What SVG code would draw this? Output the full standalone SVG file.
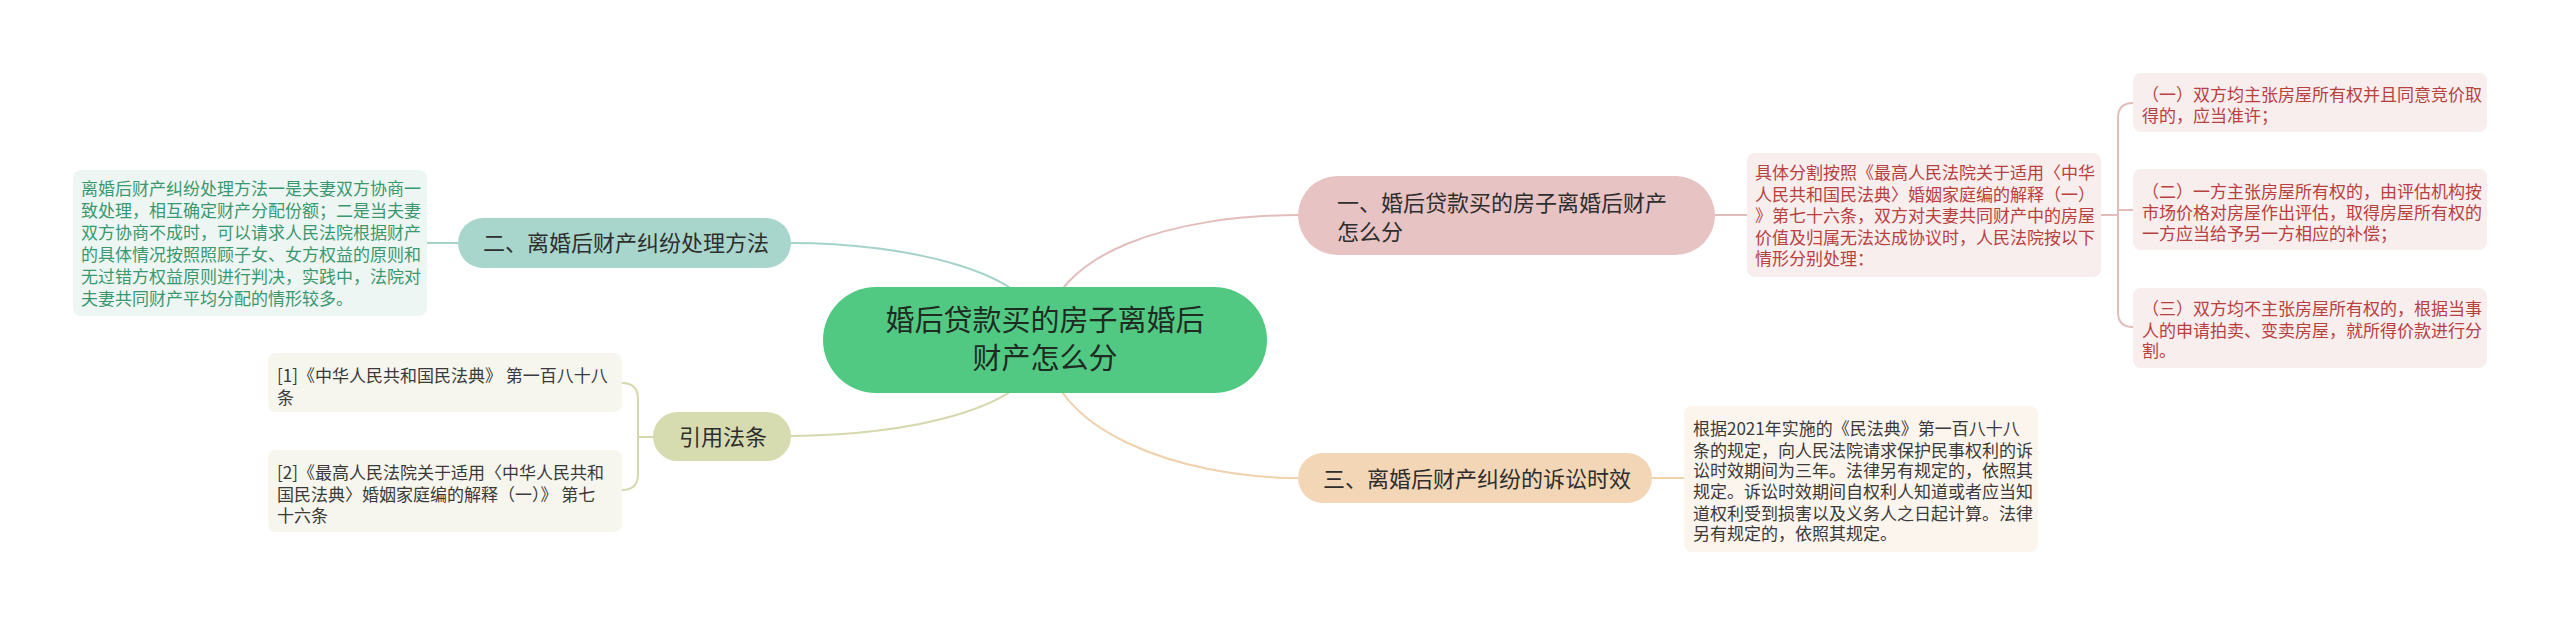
<svg xmlns="http://www.w3.org/2000/svg" width="2560" height="625" viewBox="0 0 2560 625">
<style>
text{font-family:"Noto Sans CJK SC","Noto Sans",sans-serif;}
.main{font-size:29px;fill:#1e2b22;text-anchor:middle;}
.br{font-size:22px;fill:#2e2e2e;}
.sm{font-size:17px;}
.c{fill:none;stroke-width:2;}
</style>
<rect width="2560" height="625" fill="#ffffff"/>
<g id="connectors">
<path class="c" stroke="#a6d3c9" d="M1045 340 C1045 270 900 243 791 243"/>
<path class="c" stroke="#a6d3c9" d="M427 243 L458 243"/>
<path class="c" stroke="#d5d8ad" d="M1045 340 C1045 410 900 436 791 436"/>
<path class="c" stroke="#d5d8ad" d="M622 383 Q638 383 638 399 L638 474 Q638 490 622 490 M638 437 L653 437"/>
<path class="c" stroke="#e3bcbc" d="M1045 340 C1045 250 1180 215 1298 215"/>
<path class="c" stroke="#e3bcbc" d="M1715 215 L1747 215"/>
<path class="c" stroke="#e3bcbc" d="M2101 215 L2118 215 M2133 103 Q2118 103 2118 118 L2118 312 Q2118 327 2133 327 M2118 210 L2133 210"/>
<path class="c" stroke="#f0d1ae" d="M1045 340 C1045 430 1180 478 1298 478"/>
<path class="c" stroke="#f0d1ae" d="M1652 478 L1684 478"/>
</g>
<g id="center">
<rect x="823" y="287" width="444" height="106" rx="53" fill="#52c983"/>
<text class="main" x="1045" y="331">婚后贷款买的房子离婚后</text>
<text class="main" x="1045" y="369">财产怎么分</text>
</g>
<g id="branch1">
<rect x="1298" y="176" width="417" height="79" rx="39.5" fill="#e8c3c3"/>
<text class="br" x="1337" y="211">一、婚后贷款买的房子离婚后财产</text>
<text class="br" x="1337" y="240">怎么分</text>
</g>
<g id="branch1-detail">
<rect x="1747" y="153" width="354" height="124" rx="8" fill="#f8eeee"/>
<g class="sm" fill="#b8403f">
<text x="1755" y="179">具体分割按照《最高人民法院关于适用〈中华</text>
<text x="1755" y="201">人民共和国民法典〉婚姻家庭编的解释（一）</text>
<text x="1755" y="222">》第七十六条，双方对夫妻共同财产中的房屋</text>
<text x="1755" y="244">价值及归属无法达成协议时，人民法院按以下</text>
<text x="1755" y="265">情形分别处理：</text>
</g>
</g>
<g id="item1">
<rect x="2133" y="73" width="354" height="59" rx="8" fill="#f8eeee"/>
<g class="sm" fill="#b8403f">
<text x="2142" y="100.5">（一）双方均主张房屋所有权并且同意竞价取</text>
<text x="2142" y="122">得的，应当准许；</text>
</g>
</g>
<g id="item2">
<rect x="2133" y="169" width="354" height="81" rx="8" fill="#f8eeee"/>
<g class="sm" fill="#b8403f">
<text x="2142" y="197.5">（二）一方主张房屋所有权的，由评估机构按</text>
<text x="2142" y="218.5">市场价格对房屋作出评估，取得房屋所有权的</text>
<text x="2142" y="239.5">一方应当给予另一方相应的补偿；</text>
</g>
</g>
<g id="item3">
<rect x="2133" y="288" width="354" height="80" rx="8" fill="#f8eeee"/>
<g class="sm" fill="#b8403f">
<text x="2142" y="315">（三）双方均不主张房屋所有权的，根据当事</text>
<text x="2142" y="336.5">人的申请拍卖、变卖房屋，就所得价款进行分</text>
<text x="2142" y="357">割。</text>
</g>
</g>
<g id="branch2">
<rect x="458" y="218" width="333" height="50" rx="25" fill="#a9d6cc"/>
<text class="br" x="483" y="251">二、离婚后财产纠纷处理方法</text>
</g>
<g id="branch2-detail">
<rect x="73" y="170" width="354" height="146" rx="8" fill="#eef6f3"/>
<g class="sm" fill="#3a9870">
<text x="81" y="194.5">离婚后财产纠纷处理方法一是夫妻双方协商一</text>
<text x="81" y="216.5">致处理，相互确定财产分配份额；二是当夫妻</text>
<text x="81" y="238.5">双方协商不成时，可以请求人民法院根据财产</text>
<text x="81" y="260.5">的具体情况按照照顾子女、女方权益的原则和</text>
<text x="81" y="282.5">无过错方权益原则进行判决，实践中，法院对</text>
<text x="81" y="304.5">夫妻共同财产平均分配的情形较多。</text>
</g>
</g>
<g id="branch-cite">
<rect x="653" y="412" width="138" height="49" rx="24.5" fill="#d7dcb0"/>
<text class="br" x="679" y="445">引用法条</text>
</g>
<g id="cite1">
<rect x="268" y="353" width="354" height="59" rx="8" fill="#f6f6ee"/>
<g class="sm" fill="#3a3a3a">
<text x="277" y="381.5">[1]《中华人民共和国民法典》 第一百八十八</text>
<text x="277" y="403.5">条</text>
</g>
</g>
<g id="cite2">
<rect x="268" y="450" width="354" height="82" rx="8" fill="#f6f6ee"/>
<g class="sm" fill="#3a3a3a">
<text x="277" y="478.5">[2]《最高人民法院关于适用〈中华人民共和</text>
<text x="277" y="500.5">国民法典〉婚姻家庭编的解释（一）》 第七</text>
<text x="277" y="521.5">十六条</text>
</g>
</g>
<g id="branch3">
<rect x="1298" y="453" width="354" height="50" rx="25" fill="#f3d6b6"/>
<text class="br" x="1323" y="487">三、离婚后财产纠纷的诉讼时效</text>
</g>
<g id="branch3-detail">
<rect x="1684" y="406" width="354" height="146" rx="8" fill="#fcf5ee"/>
<g class="sm" fill="#3a3a3a">
<text x="1693" y="435">根据2021年实施的《民法典》第一百八十八</text>
<text x="1693" y="456.5">条的规定，向人民法院请求保护民事权利的诉</text>
<text x="1693" y="477">讼时效期间为三年。法律另有规定的，依照其</text>
<text x="1693" y="498">规定。诉讼时效期间自权利人知道或者应当知</text>
<text x="1693" y="520">道权利受到损害以及义务人之日起计算。法律</text>
<text x="1693" y="540">另有规定的，依照其规定。</text>
</g>
</g>
</svg>
